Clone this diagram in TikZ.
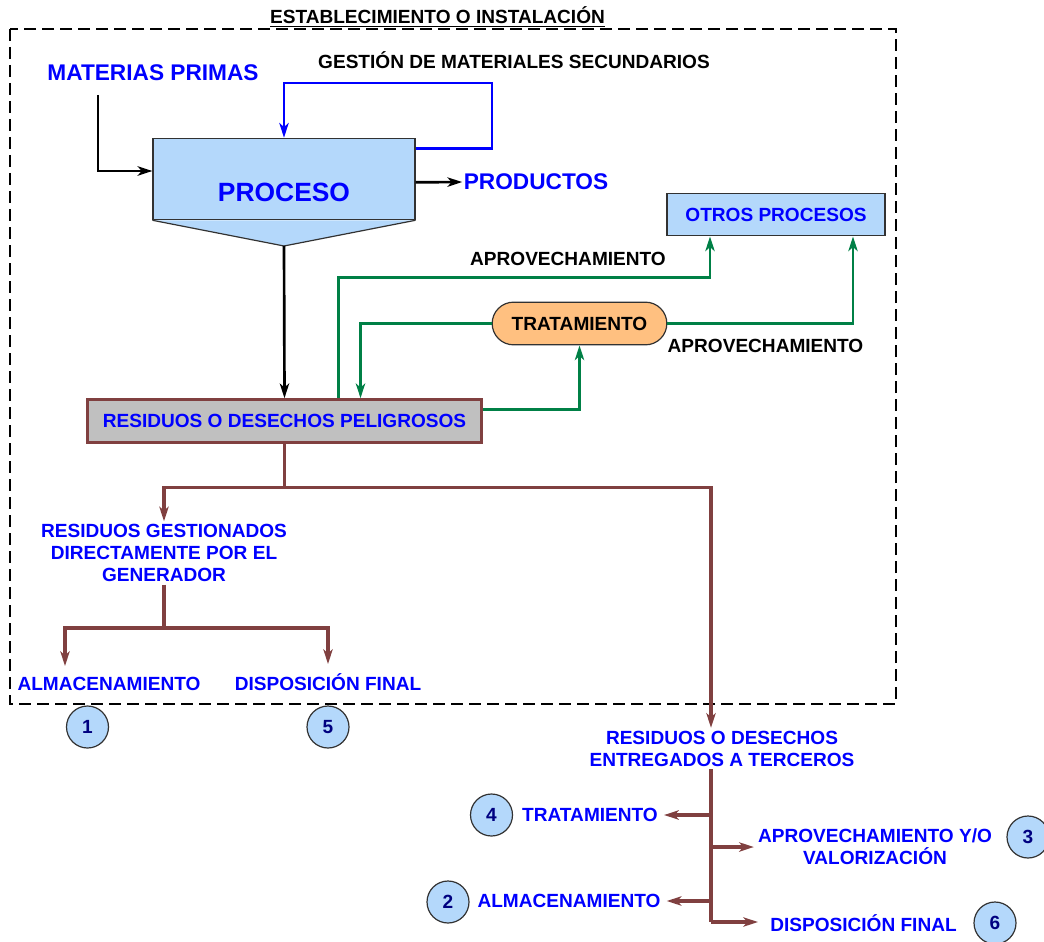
\documentclass[tikz,border=0pt]{standalone}
\usepackage{fontspec}
\setmainfont{Liberation Sans}
\usetikzlibrary{arrows.meta,positioning}
\definecolor{procblue}{RGB}{180,216,251}
\definecolor{boxedge}{RGB}{50,50,50}
\definecolor{resgray}{RGB}{192,192,192}
\definecolor{resbrown}{RGB}{128,64,64}
\definecolor{tratorange}{RGB}{255,192,128}
\definecolor{aprovgreen}{RGB}{0,128,70}
\definecolor{numnavy}{RGB}{0,0,128}
\newcommand{\labfont}{\fontsize{14.3}{16.5}\selectfont\bfseries}
\newcommand{\bigfont}{\fontsize{17}{20}\selectfont\bfseries}

\begin{document}
\begin{tikzpicture}[x=0.75pt,y=-0.75pt,
	lbl/.style={font=\labfont,text=black,inner sep=2pt},
	blbl/.style={font=\labfont,text=blue,inner sep=2pt,align=center},
	pbox/.style={rectangle,draw=boxedge,fill=procblue,line width=.9pt,font=\labfont,text=blue},
	rbox/.style={rectangle,draw=resbrown,fill=resgray,line width=2.2pt,font=\labfont,text=blue},
	tbox/.style={rectangle,rounded corners=16pt,draw=boxedge,fill=tratorange,line width=.9pt,font=\labfont},
	numc/.style={circle,draw=boxedge,fill=procblue,line width=.9pt,minimum size=31.5pt,inner sep=0pt,font=\labfont,text=numnavy},
	blkarr/.style={draw=black,line width=2pt,-{Stealth[length=11pt,width=7pt,inset=3pt]}},
	bluarr/.style={draw=blue,line width=2pt,-{Stealth[length=11pt,width=7pt,inset=3pt]}},
	grnarr/.style={draw=aprovgreen,line width=2pt,-{Stealth[length=11pt,width=7pt,inset=3pt]}},
	brn/.style={draw=resbrown,line width=2.3pt},
	brnarr/.style={brn,-{Stealth[length=11pt,width=7pt,inset=3pt]}},
	%grn/.style={draw=aprovgreen,line width=1.5pt},
	]
	\useasboundingbox (0,0) rectangle (1044,941);
	% establecimiento
	\draw[black,line width=2pt,dash pattern=on 9pt off 4.5pt] (10,29) rectangle (896,704);
	\node (titulo) [lbl,anchor=base] at (437.5,24) {\underline{ESTABLECIMIENTO O INSTALACIÓN}};

	% proceso
	\node (proc) [pbox,minimum width=196.5pt,minimum height=61pt] at (284,179) {};
	\coordinate (tip) at (284,246);
	\filldraw[fill=procblue,draw=boxedge,line width=.9pt] (proc.south west) -- (tip) -- (proc.south east);
	\node (proctxt) [font=\fontsize{19.8}{24}\selectfont\bfseries,text=blue,anchor=base,inner sep=0pt] at (284,202) {PROCESO};
	\node (mp) [font=\bigfont,text=blue,anchor=base,inner sep=0pt] at (153,81) {MATERIAS PRIMAS};
	\node (gest) [lbl,anchor=base] at (514,69) {GESTIÓN DE MATERIALES SECUNDARIOS};
	\node (prod) [font=\bigfont,text=blue,anchor=base,inner sep=1pt] at (536,190) {PRODUCTOS};
	\coordinate (mpin) at (98,95);
	\draw[blkarr] (mpin) |- ([yshift=6pt]proc.west);
	\draw[bluarr] ([yshift=23pt]proc.east) -| (492,83) -| (proc.north);
	\draw[blkarr] ([yshift=-2.5pt]proc.east) -- (prod.west |- 0,182);

	% residuos
	\node (res) [rbox,minimum width=296pt,minimum height=32pt] at (284.5,421) {RESIDUOS O DESECHOS PELIGROSOS};
	\draw[blkarr] (tip) -- (res.north);

	% otros procesos y tratamiento
	\node (otros) [pbox,minimum width=163.5pt,minimum height=32pt] at (776,214.5) {OTROS PROCESOS};
	\node (trat) [tbox,minimum width=131pt,minimum height=32pt] at (579.5,323.5) {TRATAMIENTO};
	\node (apr1) [lbl,anchor=base] at (568,265) {APROVECHAMIENTO};
	\node (apr2) [lbl,anchor=base] at (765.5,352) {APROVECHAMIENTO};
	\draw[grnarr] ([xshift=40.5pt]res.north) -- ++(0,-121) -| ([xshift=-49.5pt]otros.south);
	\draw[grnarr] (trat.west) -| ([xshift=57pt]res.north);
	\draw[grnarr] (trat.east) -| ([xshift=57.75pt]otros.south);
	\draw[grnarr] ([yshift=8.5pt]res.east) -| (trat.south);

	% gestionados por el generador
	\node (gen) [blbl] at (164,553) {RESIDUOS GESTIONADOS\\DIRECTAMENTE POR EL\\GENERADOR};
	\draw[brnarr] (res.south) -- ++(0,44) -| (gen.north);
	\coordinate (gsplit) at (164,628);
	\coordinate (alm1) at (65,666);
	\coordinate (dis1) at (328,664);
	\draw[brn] (gen.south) -- (gsplit);
	\draw[brnarr] (gsplit) -| (alm1);
	\draw[brnarr] (gsplit) -| (dis1);
	\node (almtxt1) [blbl,anchor=base] at (109,690) {ALMACENAMIENTO};
	\node (distxt1) [blbl,anchor=base] at (328,690) {DISPOSICIÓN FINAL};
	\node (c1) [numc] at (87.5,727) {1};
	\node (c5) [numc] at (328,727) {5};

	% entregados a terceros
	\coordinate (tk1) at (711,815);
	\coordinate (tk2) at (711,847);
	\coordinate (tk3) at (711,901);
	\coordinate (tk4) at (711,922);
	\node (terc) [blbl] at (722,748.5) {RESIDUOS O DESECHOS\\ENTREGADOS A TERCEROS};
	\draw[brnarr] (res.south) -- ++(0,44) -| (terc.north -| tk1);
	\draw[brn] (terc.south -| tk1) -- (tk4);
	\node (trat2) [blbl,inner sep=4.5pt] at (590,815) {TRATAMIENTO};
	\node (aprov2) [blbl] at (875,846.5) {APROVECHAMIENTO Y/O\\VALORIZACIÓN};
	\node (alm2) [blbl,inner sep=4.5pt] at (569,901) {ALMACENAMIENTO};
	\node (dis2) [blbl] at (863.5,923) {DISPOSICIÓN FINAL};
	\draw[brnarr] (tk1) -- (trat2.east);
	\draw[brnarr] (tk2) -- ([xshift=-1pt]aprov2.west |- tk2);
	\draw[brnarr] (tk3) -- (alm2.east);
	\draw[brnarr] (tk4) -- ([xshift=-7pt]dis2.west |- tk4);
	\node (c4) [numc] at (491.5,815) {4};
	\node (c2) [numc] at (448,902) {2};
	\node (c3) [numc] at (1028,837) {3};
	\node (c6) [numc] at (995,923) {6};
\end{tikzpicture}
\end{document}
